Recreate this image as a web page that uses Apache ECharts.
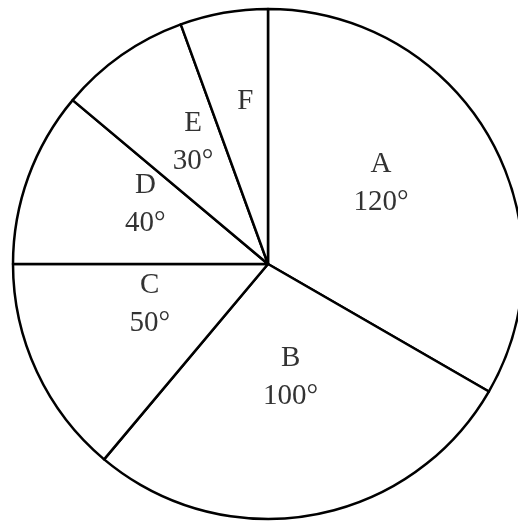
<!DOCTYPE html>
<html>
<head>
<meta charset="utf-8">
<script src="https://cdn.jsdelivr.net/npm/echarts@6/dist/echarts.min.js"></script>
<style>
  html, body { margin: 0; padding: 0; background: #fff; }
  #chart { width: 518px; height: 523px; }
</style>
</head>
<body>
<div id="chart"></div>
<script>
var sectors = ['A', 'B', 'C', 'D', 'E', 'F']
var angles = [120, 100, 50, 40, 30, 20]
var degreeLabels = ['120°', '100°', '50°', '40°', '30°', '']

var myChart = echarts.init(document.getElementById('chart'))
var option = {
  animation: false,
  series: [
    {
      type: 'pie',
      center: [268, 264],
      radius: [0, 255],
      startAngle: 90,
      clockwise: true,
      avoidLabelOverlap: false,
      itemStyle: {
        color: '#fff',
        borderColor: '#000',
        borderWidth: 2.5
      },
      emphasis: { disabled: true },
      label: {
        show: true,
        position: 'inside',
        color: '#333',
        fontFamily: 'Liberation Serif',
        fontSize: 29,
        lineHeight: 38,
        // F has no angle, but keeps the empty second line like the others
        formatter: function (p) {
          return p.name + '\n' + degreeLabels[p.dataIndex]
        }
      },
      labelLayout: { dy: -15 },
      labelLine: { show: false },
      data: sectors.map(function (name, i) {
        return { name: name, value: angles[i] }
      })
    }
  ]
}
option && myChart.setOption(option)
</script>
</body>
</html>
